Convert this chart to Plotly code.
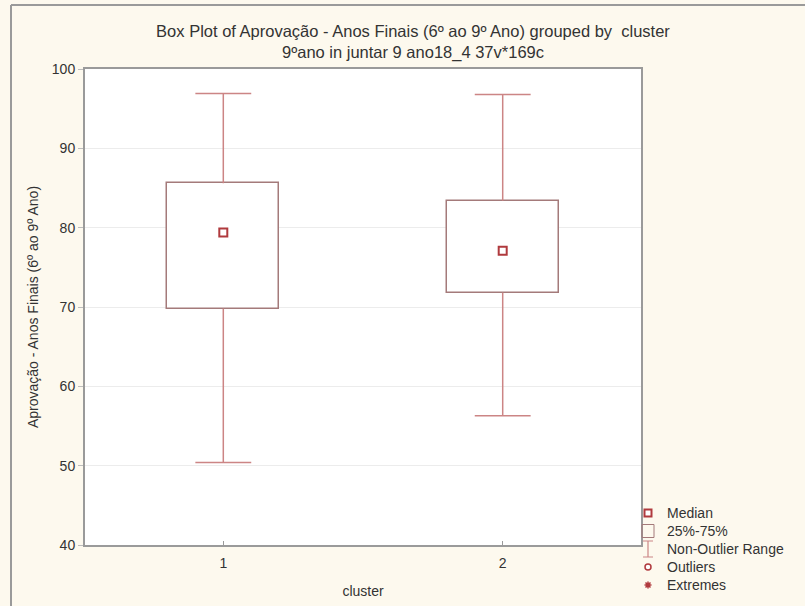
import plotly.graph_objects as go

# ---- data ----
clusters = ["1", "2"]
cluster_pos = [1, 2]
whisker_low = [50.4, 56.3]
q1 = [69.8, 71.8]
median = [79.4, 77.1]
q3 = [85.6, 83.4]
whisker_high = [96.9, 96.8]
y_ticks = [40, 50, 60, 70, 80, 90, 100]

legend_labels = ["Median", "25%-75%", "Non-Outlier Range", "Outliers", "Extremes"]

# ---- style ----
W, H = 805, 606
L, R, T, B = 85, 164, 69, 61
BOX_W = 0.4
CAP_HALF = BOX_W / 4
box_col = "#a47a7a"
whisk_col = "#cc8585"
med_col = "#b03a3e"
font = "Liberation Sans, Arial, sans-serif"

fig = go.Figure()

fig.add_trace(go.Bar(
    x=cluster_pos, base=q1, y=[b - a for a, b in zip(q1, q3)],
    width=BOX_W, marker=dict(color="white", line=dict(color=box_col, width=1.5)),
    showlegend=False, hoverinfo="skip"))

wx, wy = [], []
for c, lo, a, b, hi in zip(cluster_pos, whisker_low, q1, q3, whisker_high):
    wx += [c, c, None, c - CAP_HALF, c + CAP_HALF, None, c, c, None, c - CAP_HALF, c + CAP_HALF, None]
    wy += [b, hi, None, hi, hi, None, a, lo, None, lo, lo, None]
fig.add_trace(go.Scatter(x=wx, y=wy, mode="lines", line=dict(color=whisk_col, width=1.5),
                         showlegend=False, hoverinfo="skip"))

fig.add_trace(go.Scatter(x=cluster_pos, y=median, mode="markers",
                         marker=dict(symbol="square-open", size=8, color=med_col, line=dict(width=2, color=med_col)),
                         showlegend=False))

def px_x(px):
    return (px - L) / (W - L - R)

def px_y(py):
    return 1 - (py - T) / (H - T - B)

# outer frame (top + left)
fig.add_shape(type="line", xref="paper", yref="paper", x0=px_x(11), x1=px_x(W + 5), y0=px_y(5), y1=px_y(5),
              line=dict(color="#9a9a9a", width=2))
fig.add_shape(type="line", xref="paper", yref="paper", x0=px_x(11), x1=px_x(11), y0=px_y(5), y1=px_y(H + 5),
              line=dict(color="#9a9a9a", width=2))

# custom legend (symbols as pixel-sized shapes)
rows = [513, 531, 549, 567, 585]
sym_x = px_x(648)
legend_syms = [
    dict(type="rect", x0=-3.5, x1=3.5, y0=-3.5, y1=3.5, line=dict(color=med_col, width=2), fillcolor="white"),
    dict(type="rect", x0=-6, x1=6, y0=-6.5, y1=6.5, line=dict(color=box_col, width=1), fillcolor="rgba(0,0,0,0)"),
    dict(type="path", path="M-5,8 L5,8 M0,8 L0,-8 M-5,-8 L5,-8", line=dict(color=whisk_col, width=1.2)),
    dict(type="circle", x0=-3, x1=3, y0=-3, y1=3, line=dict(color=med_col, width=1.5), fillcolor="white"),
    dict(type="path", path="M-3.5,0 L3.5,0 M0,-3.5 L0,3.5 M-2.5,-2.5 L2.5,2.5 M-2.5,2.5 L2.5,-2.5",
         line=dict(color=med_col, width=1.5)),
]
for s, lab, ry in zip(legend_syms, legend_labels, rows):
    fig.add_shape(xref="paper", yref="paper", xsizemode="pixel", ysizemode="pixel",
                  xanchor=sym_x, yanchor=px_y(ry), **s)
    fig.add_annotation(x=px_x(665), y=px_y(ry), xref="paper", yref="paper", text=lab,
                       showarrow=False, xanchor="left", yanchor="middle",
                       font=dict(family=font, size=14, color="#333333"))

fig.update_layout(
    width=W, height=H,
    margin=dict(l=L, r=R, t=T, b=B, autoexpand=False),
    paper_bgcolor="#fdf9ee", plot_bgcolor="white",
    font=dict(family=font, color="#333333"),
    title=dict(text="Box Plot of Aprovação - Anos Finais (6º ao 9º Ano) grouped by  cluster<br>9ºano in juntar 9 ano18_4 37v*169c",
               x=413 / W, xanchor="center", xref="container", y=1 - 37 / H, yanchor="middle",
               font=dict(size=16.5, color="#333333", family=font)),
    bargap=0,
)
fig.update_xaxes(range=[0.505, 2.495], tickvals=cluster_pos, ticktext=clusters, automargin=False,
                 showgrid=False, zeroline=False, showline=True, mirror=True, linecolor="#9a9a9a", linewidth=2,
                 ticks="inside", ticklen=4, tickcolor="#9a9a9a", ticklabelstandoff=4,
                 tickfont=dict(size=14, color="#333333"),
                 title=dict(text="cluster", font=dict(size=14, color="#333333"), standoff=16))
fig.update_yaxes(range=[40, 100], tickvals=y_ticks, showgrid=True, gridcolor="#ececec", gridwidth=1, automargin=False,
                 zeroline=False, showline=True, mirror=True, linecolor="#9a9a9a", linewidth=2,
                 ticks="outside", ticklen=5, tickcolor="#bdbdbd",
                 tickfont=dict(size=14, color="#333333"),
                 title=dict(text="Aprovação - Anos Finais (6º ao 9º Ano)", font=dict(size=14, color="#333333"), standoff=10))

fig.write_html("out.html")
